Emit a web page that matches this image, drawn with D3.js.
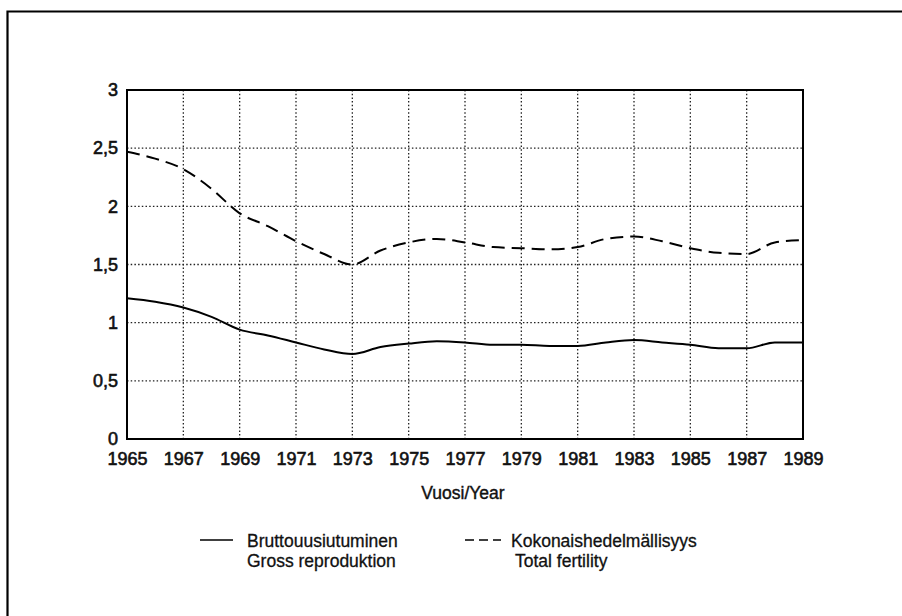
<!DOCTYPE html>
<html>
<head>
<meta charset="utf-8">
<script src="https://cdn.jsdelivr.net/npm/d3@7"></script>
<style>
  body { margin: 0; background: #fff; }
  svg text { font-family: "Liberation Sans", Arial, sans-serif; fill: #111; }
</style>
</head>
<body>
<div id="chart"></div>
<script>
"use strict";

var years = d3.range(1965, 1990);
var grossReproduction = [1.21, 1.18, 1.13, 1.05, 0.94, 0.89, 0.83, 0.77, 0.73, 0.79, 0.82, 0.84, 0.83, 0.81, 0.81, 0.80, 0.80, 0.83, 0.85, 0.83, 0.81, 0.78, 0.78, 0.83, 0.83];
var totalFertility = [2.47, 2.41, 2.32, 2.15, 1.94, 1.83, 1.70, 1.59, 1.50, 1.62, 1.69, 1.72, 1.69, 1.65, 1.64, 1.63, 1.65, 1.72, 1.74, 1.70, 1.64, 1.60, 1.59, 1.69, 1.71];
var yTicks = [0, 0.5, 1, 1.5, 2, 2.5, 3];
var xTicks = d3.range(1965, 1990, 2);
var legendLabels = [
    ["Bruttouusiutuminen", "Gross reproduktion"],
    ["Kokonaishedelmällisyys", "Total fertility"]
];

var W = 902, H = 616;
var margin = { left: 127, top: 90, right: 99, bottom: 177 };
var pw = W - margin.left - margin.right;
var ph = H - margin.top - margin.bottom;

var svg = d3.select("#chart").append("svg").attr("width", W).attr("height", H);

// outer frame (cut off at right and bottom in the scan)
svg.append("path")
    .attr("d", "M7.5," + (H + 5) + "V11.5H" + (W + 5))
    .attr("fill", "none").attr("stroke", "#000").attr("stroke-width", 2.2);

var x = d3.scaleLinear().domain([1965, 1989]).range([0, pw]);
var y = d3.scaleLinear().domain([0, 3]).range([ph, 0]);

var g = svg.append("g").attr("transform", "translate(" + margin.left + "," + margin.top + ")");

// grid
g.append("g").selectAll("line").data(xTicks.slice(1, -1)).join("line")
    .attr("x1", function (d) { return x(d); }).attr("x2", function (d) { return x(d); })
    .attr("y1", 0).attr("y2", ph)
    .attr("stroke", "#222").attr("stroke-width", 1.3).attr("stroke-dasharray", "1.5,2.2");
g.append("g").selectAll("line").data(yTicks.slice(1, -1)).join("line")
    .attr("y1", function (d) { return y(d); }).attr("y2", function (d) { return y(d); })
    .attr("x1", 0).attr("x2", pw)
    .attr("stroke", "#222").attr("stroke-width", 1.3).attr("stroke-dasharray", "1.5,2.2");

// plot box
g.append("rect").attr("width", pw).attr("height", ph)
    .attr("fill", "none").attr("stroke", "#000").attr("stroke-width", 2);

// axes
var fmt = function (d) { return String(d).replace(".", ","); };
var yAxis = g.append("g").call(d3.axisLeft(y).tickValues(yTicks).tickSize(0).tickPadding(9).tickFormat(fmt));
var xAxis = g.append("g").attr("transform", "translate(0," + ph + ")")
    .call(d3.axisBottom(x).tickValues(xTicks).tickSize(0).tickPadding(13).tickFormat(d3.format("d")));
[yAxis, xAxis].forEach(function (a) {
    a.select(".domain").remove();
    a.selectAll("text").attr("font-size", 18).attr("fill", "#111")
        .attr("stroke", "#111").attr("stroke-width", 0.6);
});

g.append("text").attr("x", pw / 2 - 2).attr("y", ph + 60)
    .attr("text-anchor", "middle").attr("font-size", 17.5)
    .attr("stroke", "#111").attr("stroke-width", 0.4)
    .text("Vuosi/Year");

// lines
var line = d3.line().x(function (d, i) { return x(years[i]); }).y(function (d) { return y(d); })
    .curve(d3.curveMonotoneX);
g.append("path").datum(grossReproduction).attr("d", line)
    .attr("fill", "none").attr("stroke", "#000").attr("stroke-width", 2);
g.append("path").datum(totalFertility).attr("d", line)
    .attr("fill", "none").attr("stroke", "#000").attr("stroke-width", 2).attr("stroke-dasharray", "13,7");

// legend
var leg = svg.append("g").attr("transform", "translate(0,540)");
leg.append("line").attr("x1", 200).attr("x2", 233).attr("y1", 0).attr("y2", 0)
    .attr("stroke", "#000").attr("stroke-width", 1.6);
leg.append("line").attr("x1", 465).attr("x2", 501).attr("y1", 0).attr("y2", 0)
    .attr("stroke", "#000").attr("stroke-width", 1.6).attr("stroke-dasharray", "9,5");
var lx = [[247, 247], [511, 515]];
legendLabels.forEach(function (pair, i) {
    pair.forEach(function (t, j) {
        leg.append("text").attr("x", lx[i][j]).attr("y", 7 + j * 20)
            .attr("font-size", 17.5).attr("stroke", "#111").attr("stroke-width", 0.3)
            .text(t);
    });
});
</script>
</body>
</html>
